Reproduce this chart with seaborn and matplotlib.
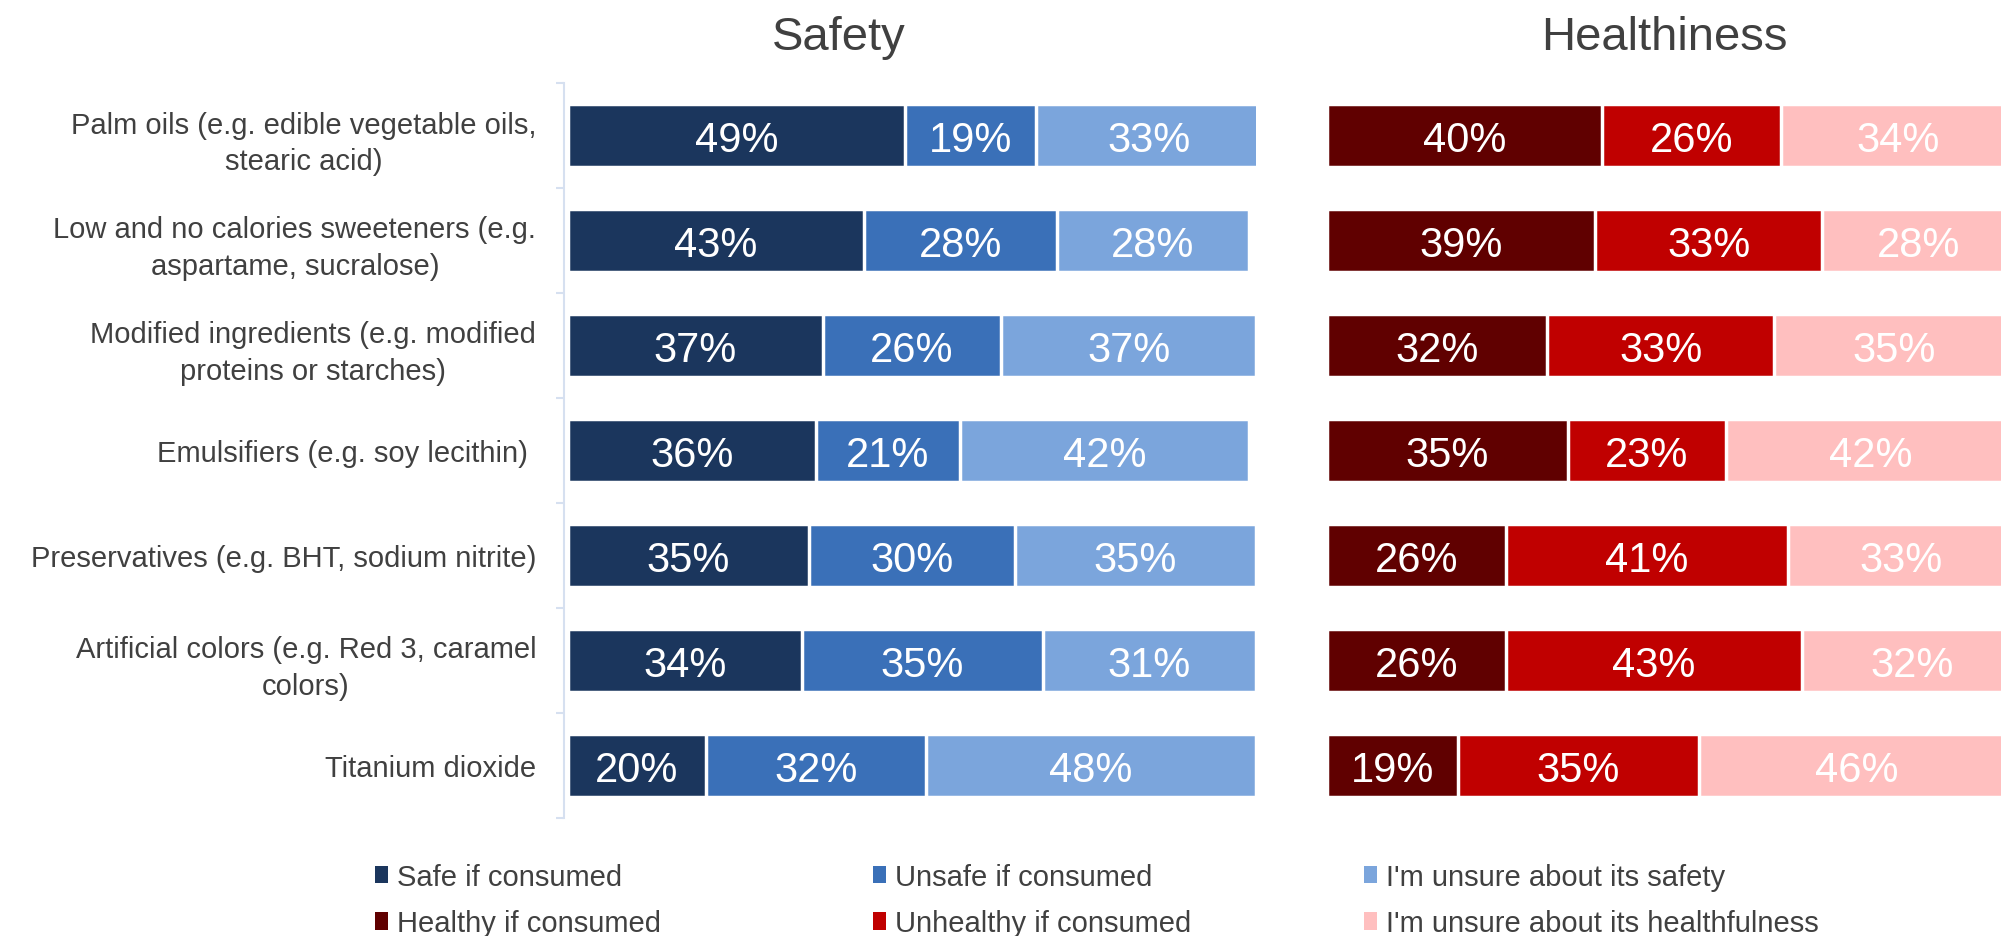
import matplotlib
matplotlib.use("Agg")
import matplotlib.pyplot as plt
import seaborn as sns
import pandas as pd
import numpy as np
from matplotlib.patches import Patch

# Ingredient categories (top to bottom)
items = [
    "Palm oils (e.g. edible vegetable oils,\nstearic acid)",
    "Low and no calories sweeteners (e.g.\naspartame, sucralose)",
    "Modified ingredients (e.g. modified\nproteins or starches)",
    "Emulsifiers (e.g. soy lecithin) ",
    "Preservatives (e.g. BHT, sodium nitrite)",
    "Artificial colors (e.g. Red 3, caramel\ncolors)",
    "Titanium dioxide",
]

# Safety perception shares (%)
safe = [49, 43, 37, 36, 35, 34, 20]
unsafe = [19, 28, 26, 21, 30, 35, 32]
unsure_safety = [33, 28, 37, 42, 35, 31, 48]

# Healthiness perception shares (%)
healthy = [40, 39, 32, 35, 26, 26, 19]
unhealthy = [26, 33, 33, 23, 41, 43, 35]
unsure_health = [34, 28, 35, 42, 33, 32, 46]

safety_labels = ["Safe if consumed", "Unsafe if consumed", "I'm unsure about its safety"]
health_labels = ["Healthy if consumed", "Unhealthy if consumed", "I'm unsure about its healthfulness"]
panel_titles = ["Safety", "Healthiness"]

safety_colors = ["#1B365D", "#3A70B8", "#7BA5DC"]
health_colors = ["#600000", "#C00000", "#FFBFBF"]
text_gray = "#404040"
axis_gray = "#D6E0F0"

sns.set_style("white")
plt.rcParams["font.family"] = ["Liberation Sans", "DejaVu Sans"]

W, H = 2001, 937
fig = plt.figure(figsize=(W / 100, H / 100), dpi=100)
ax_s = fig.add_axes([564 / W, 118 / H, 692 / W, 735 / H])
ax_h = fig.add_axes([1323 / W, 118 / H, 692 / W, 735 / H])


def stacked(ax, series, colors):
    vals = np.array(series, dtype=float)
    cum = np.cumsum(vals, axis=0) / 100.0
    # draw cumulative totals from the widest down so each segment shows
    for k in range(len(series) - 1, -1, -1):
        df = pd.DataFrame({"item": items, "v": cum[k]})
        sns.barplot(data=df, x="v", y="item", order=items, orient="h",
                    color=colors[k], saturation=1, width=0.6,
                    edgecolor="white", linewidth=2.5, ax=ax)
    starts = np.vstack([np.zeros(len(items)), cum[:-1]])
    for k in range(len(series)):
        for i in range(len(items)):
            ax.text(starts[k][i] + vals[k][i] / 200.0, i, f"{series[k][i]}%",
                    ha="center", va="center_baseline", color="white",
                    fontsize=30)
    ax.set_xlim(-0.006, 1.0)
    ax.set_ylim(len(items) - 0.5, -0.5)
    ax.set_xlabel("")
    ax.set_ylabel("")
    ax.set_xticks([])
    for s in ["top", "right", "bottom"]:
        ax.spines[s].set_visible(False)


stacked(ax_s, [safe, unsafe, unsure_safety], safety_colors)
stacked(ax_h, [healthy, unhealthy, unsure_health], health_colors)

# category axis on the safety panel
ax_s.set_yticks(range(len(items)))
ax_s.set_yticklabels(items, fontsize=21, color=text_gray)
for lab in ax_s.get_yticklabels():
    lab.set_multialignment("center")
    lab.set_linespacing(1.38)
ax_s.set_yticks(np.arange(-0.5, len(items), 1.0), minor=True)
ax_s.tick_params(axis="y", which="major", left=False, length=0, pad=20)
ax_s.tick_params(axis="y", which="minor", left=True, direction="out",
                 length=6, width=1.5, color=axis_gray)
ax_s.spines["left"].set_color(axis_gray)
ax_s.spines["left"].set_linewidth(1.5)

ax_h.set_yticks([])
ax_h.spines["left"].set_visible(False)

# panel titles
fig.text(839 / W, 1 - 38 / H, panel_titles[0], ha="center", va="center",
         fontsize=34, color=text_gray)
fig.text(1664 / W, 1 - 38 / H, panel_titles[1], ha="center", va="center",
         fontsize=34, color=text_gray)

# legend: one column per response type, safety row above healthiness row
cols_x = [375, 873, 1364]
for j in range(3):
    handles = [Patch(facecolor=safety_colors[j], edgecolor="none", label=safety_labels[j]),
               Patch(facecolor=health_colors[j], edgecolor="none", label=health_labels[j])]
    fig.legend(handles=handles, loc="center left",
               bbox_to_anchor=(cols_x[j] / W, 36 / H), frameon=False,
               fontsize=21, handlelength=0.45, handleheight=0.55,
               handletextpad=0.3, borderpad=0, borderaxespad=0,
               labelspacing=0.62, labelcolor=text_gray)

fig.savefig("out.png", dpi=100)
